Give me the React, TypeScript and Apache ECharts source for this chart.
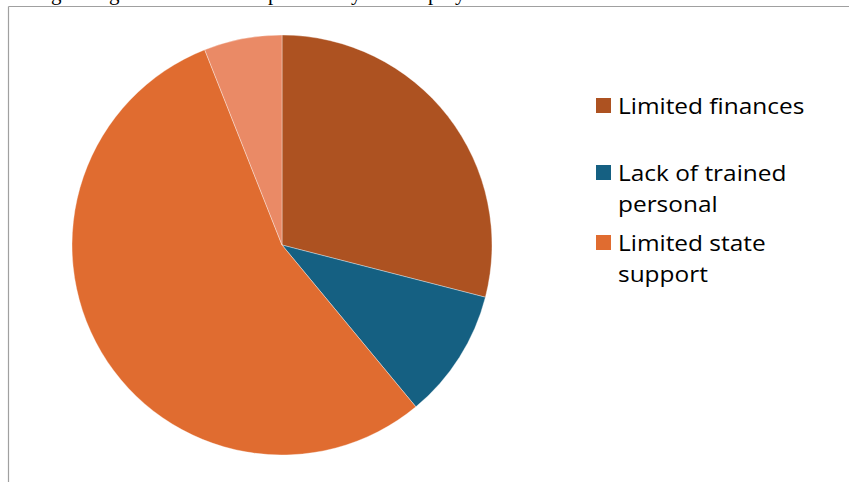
import React, { useEffect, useRef } from "react";
import * as echarts from "echarts";

const categories = ["Limited finances", "Lack of trained personal", "Limited state support", "Other"];
const values = [29, 10, 55, 6];
const colors = ["#AD5221", "#156082", "#E06C30", "#EA8A66"];
const legendNames = ["Limited finances", "Lack of trained personal", "Limited state support"];
const legendLines = [["Limited finances"], ["Lack of trained", "personal"], ["Limited state", "support"]];
const legendMarkerTops = [98, 165, 235];
// partially visible caption (only descenders show)
const captionGlyphs = ["g", "g", "p", "y", "p", "y"];
const captionX = [51, 109, 268, 351, 428, 455];

export default function App() {
  const ref = useRef<HTMLDivElement>(null);
  useEffect(() => {
    document.body.style.margin = "0";
    const chart = echarts.init(ref.current!, undefined, { renderer: "svg" });
    const graphics: any[] = [];
    captionGlyphs.forEach((g, i) => {
      graphics.push({
        type: "text",
        x: captionX[i],
        y: -7,
        z: 1,
        style: {
          text: g,
          font: "21px 'Liberation Serif'",
          fill: "#000",
          textVerticalAlign: "middle",
        },
      });
    });
    // frame lines
    graphics.push({
      type: "line",
      z: 2,
      shape: { x1: 8.5, y1: 6.5, x2: 849, y2: 6.5 },
      style: { stroke: "#A0A0A0", lineWidth: 1.2 },
    });
    graphics.push({
      type: "line",
      z: 2,
      shape: { x1: 8.5, y1: 6.5, x2: 8.5, y2: 482 },
      style: { stroke: "#A0A0A0", lineWidth: 1.2 },
    });
    legendNames.forEach((name, i) => {
      const idx = categories.indexOf(name);
      const top = legendMarkerTops[i];
      graphics.push({
        type: "rect",
        shape: { x: 596, y: top, width: 15, height: 15 },
        style: { fill: colors[idx] },
      });
      legendLines[i].forEach((line, j) => {
        graphics.push({
          type: "text",
          x: 618,
          y: top + 7 + j * 31,
          scaleX: 1.11,
          style: {
            text: line,
            font: "22px 'Open Sans'",
            fill: "#000",
            textVerticalAlign: "middle",
          },
        });
      });
    });
    chart.setOption({
      animation: false,
      backgroundColor: "#fff",
      series: [
        {
          type: "pie",
          center: [282, 245],
          radius: 210,
          startAngle: 90,
          clockwise: true,
          label: { show: false },
          labelLine: { show: false },
          emphasis: { disabled: true },
          itemStyle: { borderColor: "rgba(255,255,255,0.6)", borderWidth: 0.6 },
          data: categories.map((c, i) => ({
            name: c,
            value: values[i],
            itemStyle: { color: colors[i] },
          })),
        },
      ],
      graphic: graphics,
    });
    return () => chart.dispose();
  }, []);
  return (
    <div
      ref={ref}
      style={{ position: "fixed", left: 0, top: 0, width: 849, height: 482 }}
    />
  );
}
